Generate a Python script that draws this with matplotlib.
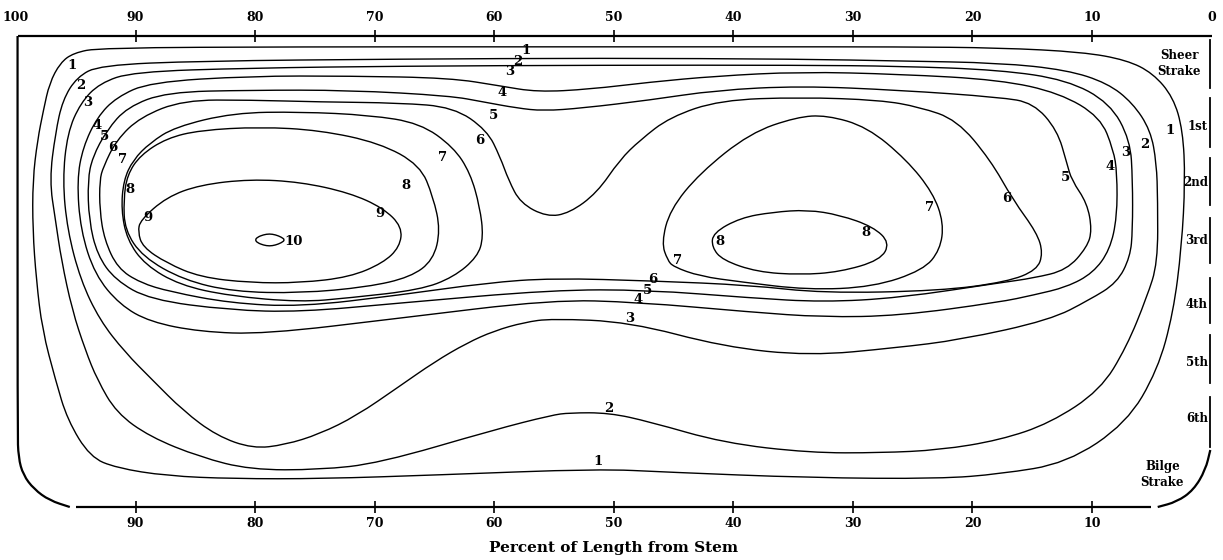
import matplotlib.pyplot as plt
from matplotlib.path import Path
from matplotlib.patches import PathPatch

# x = percent of length from stem, y = percent of girth below the sheer line
# (each curve is closed)
contour_1 = [(93.0, 2.5), (76.2, 2.3), (57.3, 2.3), (38.6, 2.3), (26.1, 2.3), (17.7, 2.5),
             (10.8, 3.4), (7.1, 5.1), (4.9, 7.9), (3.2, 13.0), (2.4, 20.0), (2.2, 30.6),
             (2.5, 44.8), (3.2, 58.8), (4.5, 70.9), (7.1, 82.2), (12.1, 90.7), (17.7, 93.0),
             (22.7, 94.0), (33.6, 93.8), (45.5, 92.6), (51.3, 91.9), (64.8, 93.2), (74.4, 94.0),
             (81.8, 94.0), (87.4, 93.4), (91.6, 91.7), (93.8, 89.4), (95.7, 81.5), (96.7, 73.0),
             (97.8, 62.4), (98.3, 51.8), (98.6, 41.2), (98.6, 30.6), (98.2, 22.1), (97.7, 15.7),
             (97.2, 10.0), (96.3, 5.7), (95.2, 3.6)]
contour_2 = [(93.0, 6.2), (84.6, 5.3), (67.9, 4.9), (51.1, 4.7), (34.4, 4.9), (26.1, 5.3),
             (17.7, 5.7), (12.1, 7.2), (8.7, 10.0), (6.6, 14.2), (5.1, 20.0), (4.6, 27.0),
             (4.5, 34.8), (4.5, 48.2), (5.4, 55.4), (7.1, 66.0), (9.3, 75.2), (13.5, 82.2),
             (17.7, 85.8), (22.7, 87.9), (27.7, 88.5), (33.6, 88.5), (40.8, 86.4), (47.0, 81.9),
             (50.4, 80.0), (53.7, 80.0), (55.2, 80.5), (60.0, 83.6), (69.6, 90.7), (74.6, 92.1),
             (80.4, 92.1), (84.6, 89.4), (88.8, 85.1), (91.6, 80.0), (93.2, 73.0), (94.2, 66.7),
             (95.3, 58.2), (96.2, 47.6), (96.7, 39.1), (97.2, 30.6), (96.7, 20.6), (96.1, 13.6),
             (94.9, 8.7)]
contour_3 = [(90.2, 7.6), (80.4, 6.8), (67.9, 6.4), (51.1, 6.2), (34.4, 6.2), (26.1, 6.4),
             (17.7, 7.2), (12.1, 9.3), (8.5, 14.2), (6.8, 22.1), (6.6, 30.6), (6.6, 41.2),
             (6.8, 46.9), (7.9, 52.4), (10.2, 56.0), (13.5, 60.3), (21.0, 64.5), (26.4, 66.2),
             (33.6, 67.9), (40.8, 66.0), (48.7, 60.7), (55.2, 60.0), (57.5, 60.8), (60.0, 62.6),
             (62.3, 65.2), (65.0, 69.2), (68.0, 74.5), (71.5, 80.6), (74.6, 84.5), (77.5, 86.8),
             (80.2, 87.6), (83.2, 84.9), (86.0, 79.6), (88.6, 73.0), (90.9, 67.1), (93.0, 60.3),
             (94.6, 51.8), (95.7, 41.2), (96.1, 30.6), (95.7, 20.6), (94.6, 14.2), (93.0, 10.0)]
contour_4 = [(88.8, 9.8), (80.4, 8.5), (72.1, 8.5), (63.7, 8.9), (59.5, 10.6), (56.4, 11.9),
             (52.0, 11.3), (47.0, 9.8), (41.4, 8.5), (34.4, 7.6), (26.1, 8.1), (17.7, 9.3),
             (12.7, 12.1), (9.3, 17.2), (8.2, 24.2), (7.9, 29.1), (7.9, 38.4), (8.5, 45.4),
             (9.9, 50.3), (12.1, 53.3), (14.9, 55.0), (17.7, 56.5), (26.1, 59.4), (32.5, 59.7),
             (38.6, 58.6), (48.0, 56.5), (55.2, 56.0), (67.9, 59.9), (79.2, 63.3), (84.6, 62.8),
             (88.8, 60.7), (91.3, 57.1), (93.4, 50.7), (94.6, 41.2), (94.9, 30.6), (94.4, 23.6),
             (93.2, 17.2), (91.6, 13.0)]
contour_5 = [(87.4, 11.9), (80.4, 11.5), (72.1, 11.5), (63.7, 12.7), (60.9, 14.0), (58.1, 15.3),
             (55.9, 15.9), (52.6, 15.3), (47.0, 13.6), (41.4, 11.5), (34.4, 10.6), (26.1, 11.5),
             (17.7, 13.0), (14.9, 14.2), (12.9, 20.0), (12.1, 27.0), (11.7, 30.6), (10.4, 35.5),
             (10.0, 41.2), (10.4, 44.8), (12.1, 49.7), (14.9, 51.4), (17.7, 52.4), (26.1, 55.6),
             (32.5, 56.5), (38.6, 55.6), (47.2, 53.9), (55.1, 53.9), (67.9, 56.7), (76.2, 58.6),
             (82.1, 58.2), (88.8, 56.0), (91.7, 51.8), (93.2, 46.5), (93.9, 39.1), (94.0, 30.6),
             (93.6, 25.7), (92.4, 20.0), (90.7, 15.1)]
contour_6 = [(86.0, 13.6), (80.4, 13.6), (74.6, 14.0), (67.9, 14.2), (63.4, 15.1), (60.6, 20.0),
             (59.5, 25.7), (58.8, 30.6), (57.8, 35.5), (55.6, 38.4), (53.7, 37.6), (51.4, 33.3),
             (49.5, 26.3), (47.8, 22.1), (45.3, 17.2), (41.1, 13.6), (34.4, 13.0), (27.7, 13.6),
             (24.4, 15.1), (21.3, 17.8), (18.5, 26.3), (16.6, 34.8), (14.6, 41.8), (14.1, 46.1),
             (14.6, 49.7), (17.1, 52.2), (22.7, 54.1), (32.5, 54.6), (38.6, 52.9), (46.7, 52.0),
             (55.1, 51.4), (60.6, 52.4), (67.9, 55.0), (76.2, 57.5), (82.1, 56.7), (87.1, 54.3),
             (89.6, 52.4), (91.5, 49.3), (92.6, 43.3), (93.0, 37.0), (93.0, 30.6), (92.7, 27.8),
             (91.6, 22.1), (89.6, 17.2)]
contour_7_fwd = [(91.0, 30.6), (90.2, 26.3), (88.8, 22.7), (86.7, 19.3), (81.8, 16.3), (76.2, 16.1),
                 (70.4, 16.8), (66.2, 18.5), (63.4, 23.6), (62.0, 29.1), (61.2, 36.3), (60.9, 42.7),
                 (61.4, 46.9), (63.4, 51.2), (66.2, 53.9), (72.1, 55.6), (76.2, 56.5), (82.1, 55.2),
                 (86.3, 52.9), (89.2, 48.6), (90.7, 43.3), (91.2, 36.9)]
contour_7_aft = [(45.0, 49.0), (42.8, 51.0), (39.4, 52.2), (33.8, 53.9), (28.3, 53.3), (24.1, 49.7),
                 (22.7, 45.4), (22.4, 39.7), (23.3, 33.3), (25.5, 26.3), (28.8, 19.3), (32.2, 16.8),
                 (34.7, 17.2), (38.6, 20.6), (42.8, 29.1), (45.3, 36.9), (46.0, 43.9), (45.5, 47.6)]
contour_8_fwd = [(91.0, 34.8), (90.7, 29.5), (89.6, 25.3), (87.4, 21.7), (84.6, 20.0), (79.6, 19.3),
                 (74.6, 20.0), (69.6, 22.7), (66.2, 27.4), (65.1, 34.2), (64.5, 41.2), (65.1, 47.6),
                 (67.0, 51.2), (70.6, 53.3), (76.2, 54.6), (81.8, 54.3), (86.0, 51.8), (89.4, 46.9),
                 (90.9, 41.2)]
contour_8_aft = [(41.7, 41.8), (39.4, 38.6), (36.7, 37.4), (33.8, 36.9), (31.1, 38.0), (28.3, 40.5),
                 (26.9, 43.9), (27.7, 47.6), (31.1, 50.1), (34.4, 50.7), (38.0, 50.1), (40.9, 47.6),
                 (41.8, 44.8)]
contour_9 = [(89.6, 39.1), (87.4, 34.2), (84.6, 31.6), (80.4, 30.4), (76.2, 31.0), (72.1, 33.3),
             (69.3, 36.5), (67.7, 40.5), (67.9, 44.8), (69.3, 48.2), (72.1, 51.2), (76.2, 52.4),
             (80.4, 52.4), (84.6, 51.2), (87.4, 48.2), (89.4, 44.8), (89.8, 41.6)]
contour_10 = [(80.0, 43.3), (79.8, 42.7), (79.3, 42.2), (78.8, 42.0), (78.3, 42.2), (77.8, 42.7),
              (77.5, 43.3), (77.8, 43.9), (78.3, 44.4), (78.8, 44.6), (79.3, 44.4), (79.8, 43.9)]

contours = [contour_1, contour_2, contour_3, contour_4, contour_5, contour_6,
            contour_7_fwd, contour_7_aft, contour_8_fwd, contour_8_aft, contour_9, contour_10]

# contour value labels: (text, x, y)
value_labels = [('1', 95.3, 6.2), ('1', 57.3, 3.0), ('1', 3.5, 20.0), ('1', 51.3, 90.4),
                ('2', 94.6, 10.6), ('2', 58.0, 5.5), ('2', 5.6, 23.1), ('2', 50.4, 79.0),
                ('3', 94.0, 14.2), ('3', 58.7, 7.6), ('3', 7.2, 24.8), ('3', 48.7, 59.9),
                ('4', 93.2, 19.1), ('4', 59.3, 12.1), ('4', 8.5, 27.8), ('4', 48.0, 56.0),
                ('5', 92.6, 21.4), ('5', 60.1, 16.8), ('5', 12.2, 30.1), ('5', 47.2, 54.1),
                ('6', 91.9, 23.6), ('6', 61.2, 22.1), ('6', 17.1, 34.4), ('6', 46.7, 51.8),
                ('7', 91.1, 26.3), ('7', 64.3, 25.7), ('7', 23.6, 36.5), ('7', 44.7, 47.6),
                ('8', 90.5, 32.5), ('8', 67.4, 31.8), ('8', 41.1, 43.7), ('8', 28.9, 41.8),
                ('9', 89.0, 38.6), ('9', 69.6, 37.6),
                ('10', 76.8, 43.7)]

# strakes along the right edge
strake_names = ['Sheer\nStrake', '1st', '2nd', '3rd', '4th', '5th', '6th', 'Bilge\nStrake']
strake_y = [5.9, 19.3, 31.2, 43.5, 56.9, 69.4, 81.3, 93.2]
strake_bands = [(0.8, 11.0), (13.2, 23.6), (25.9, 35.9), (38.6, 48.2),
                (51.4, 60.9), (63.5, 73.7), (76.6, 87.3)]

# outline of the plate
outline_left = [(99.87, 0.0), (99.87, 84.0), (99.8, 89.5), (99.4, 93.2), (98.5, 96.2),
                (97.2, 98.6), (95.5, 100.0)]
outline_bottom = [(95.0, 100.0), (5.1, 100.0)]
outline_corner = [(4.5, 100.0), (2.9, 98.9), (1.5, 96.4), (0.5, 92.1), (0.1, 87.9)]
outline_top = [(99.87, 0.0), (0.0, 0.0)]

top_ticks = [90, 80, 70, 60, 50, 40, 30, 20, 10]

serif = 'DejaVu Serif'


def closed_path(pts):
    # quadratic b-spline through the midpoints, read points act as control points
    n = len(pts)
    mids = [((pts[i][0] + pts[(i + 1) % n][0]) / 2, (pts[i][1] + pts[(i + 1) % n][1]) / 2)
            for i in range(n)]
    verts = [mids[-1]]
    codes = [Path.MOVETO]
    for i in range(n):
        verts += [pts[i], mids[i]]
        codes += [Path.CURVE3, Path.CURVE3]
    return Path(verts, codes)


def open_path(pts):
    n = len(pts)
    if n == 2:
        return Path(pts, [Path.MOVETO, Path.LINETO])
    verts = [pts[0], ((pts[0][0] + pts[1][0]) / 2, (pts[0][1] + pts[1][1]) / 2)]
    codes = [Path.MOVETO, Path.LINETO]
    for i in range(1, n - 1):
        m = ((pts[i][0] + pts[i + 1][0]) / 2, (pts[i][1] + pts[i + 1][1]) / 2)
        verts += [pts[i], m]
        codes += [Path.CURVE3, Path.CURVE3]
    verts.append(pts[-1])
    codes.append(Path.LINETO)
    return Path(verts, codes)


fig = plt.figure(figsize=(12.23, 5.6), dpi=100)
ax = fig.add_axes([0.01308, 0.09464, 0.97752, 0.84107])
ax.set_xlim(100, 0)
ax.set_ylim(100, 0)
for s in ax.spines.values():
    s.set_visible(False)
ax.set_yticks([])

for c in contours:
    ax.add_patch(PathPatch(closed_path(c), fill=False, edgecolor='black', lw=1.0, clip_on=False))

for seg in [outline_left, outline_bottom, outline_corner, outline_top]:
    ax.add_patch(PathPatch(open_path(seg), fill=False, edgecolor='black', lw=1.6,
                           clip_on=False, capstyle='butt'))

for y0, y1 in strake_bands:
    ax.plot([0.1, 0.1], [y0, y1], color='black', lw=1.3, clip_on=False)

for t, x, y in value_labels:
    ax.text(x, y, t, ha='center', va='center', fontsize=9.5, fontweight='bold',
            family=serif)

for name, y in zip(strake_names, strake_y):
    if '\n' in name:
        xpos = 2.7 if name.startswith('Sheer') else 4.1
        ax.text(xpos, y, name, ha='center', va='center', fontsize=8.5, fontweight='bold',
                family=serif, linespacing=1.3)
    else:
        ax.text(0.3, y, name, ha='right', va='center', fontsize=8.5, fontweight='bold',
                family=serif)

# bottom axis
ax.set_xticks(top_ticks)
ax.set_xticklabels([str(v) for v in top_ticks], fontsize=9, fontweight='bold', family=serif)
ax.tick_params(axis='x', direction='inout', length=9, width=1.2, pad=3)

# top axis
sec = ax.secondary_xaxis('top')
sec.spines['top'].set_visible(False)
sec.set_xticks(top_ticks)
sec.set_xticklabels([str(v) for v in top_ticks], fontsize=9, fontweight='bold', family=serif)
sec.set_xticks([100, 0], minor=True)
sec.set_xticklabels(['100', '0'], minor=True, fontsize=9, fontweight='bold', family=serif)
sec.tick_params(axis='x', which='major', direction='inout', length=9, width=1.2, pad=4)
sec.tick_params(axis='x', which='minor', length=0, pad=8.5)

ax.text(0.5, -0.087, 'Percent of Length from Stem', transform=ax.transAxes,
        ha='center', va='center', fontsize=11, fontweight='bold', family=serif)

fig.savefig('out.png', dpi=100)
